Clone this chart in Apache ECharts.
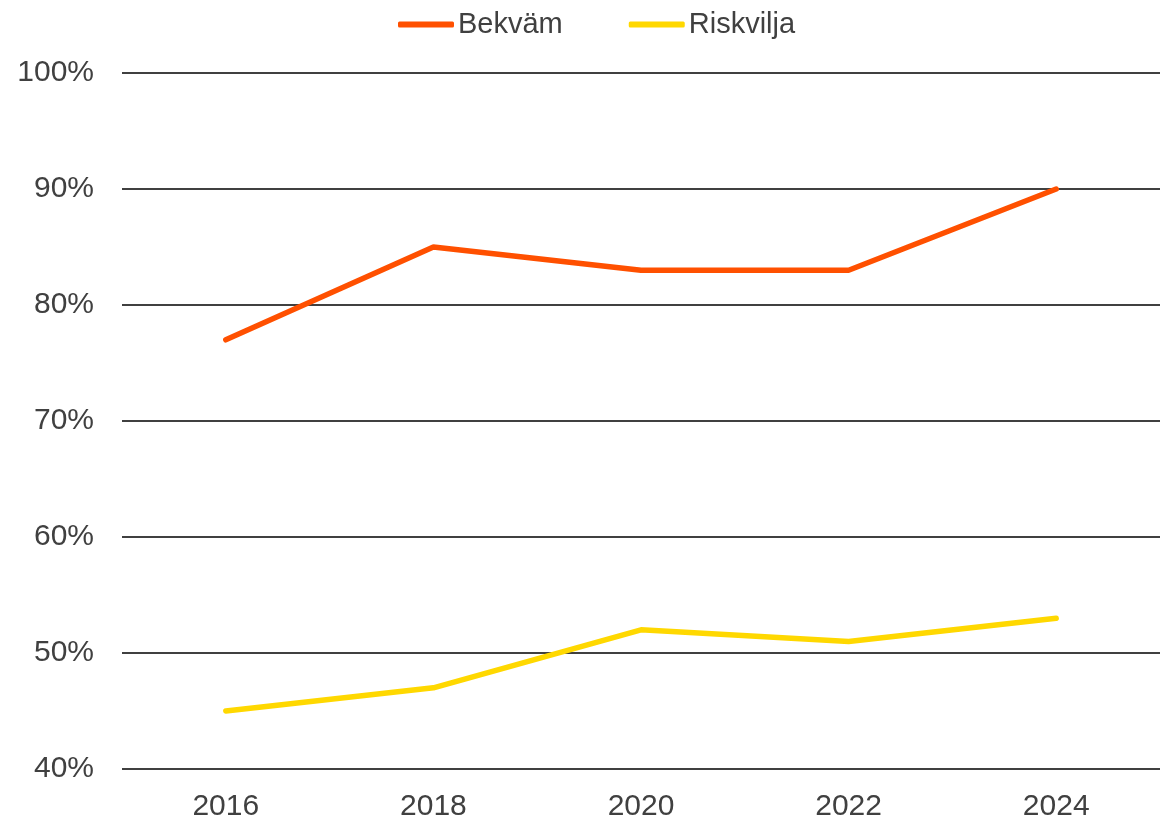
<!DOCTYPE html>
<html>
<head>
<meta charset="utf-8">
<script src="https://cdn.jsdelivr.net/npm/echarts@6/dist/echarts.min.js"></script>
<style>
  html, body { margin: 0; padding: 0; background: #fff; }
  #chart { width: 1160px; height: 823px; }
</style>
</head>
<body>
<div id="chart"></div>
<script>
// data
var years = ['2016', '2018', '2020', '2022', '2024'];
var bekvam = [77, 85, 83, 83, 90];
var riskvilja = [45, 47, 52, 51, 53];
var seriesNames = ['Bekväm', 'Riskvilja'];

var myChart = echarts.init(document.getElementById('chart'));
var textColor = '#404040';
var fontFam = 'Liberation Sans, Arial, sans-serif';

myChart.setOption({
    animation: false,
    color: ['#FF5000', '#FFD800'],
    legend: {
        data: seriesNames,
        top: 5,
        left: 393,
        itemWidth: 56,
        itemHeight: 6,
        itemGap: 66,
        icon: 'roundRect',
        textStyle: { color: textColor, fontSize: 29, fontFamily: fontFam, padding: [0, 0, 0, -1] }
    },
    grid: {
        left: 122,
        width: 1040,
        top: 73,
        bottom: 54
    },
    xAxis: {
        type: 'category',
        data: years,
        boundaryGap: true,
        axisLine: { show: false },
        axisTick: { show: false },
        axisLabel: { color: textColor, fontSize: 30, fontFamily: fontFam, margin: 23 }
    },
    yAxis: {
        type: 'value',
        min: 40,
        max: 100,
        interval: 10,
        axisLine: { show: false },
        axisTick: { show: false },
        axisLabel: {
            color: textColor, fontSize: 30, fontFamily: fontFam, margin: 28,
            formatter: function (val) { return val + '%'; }
        },
        splitLine: { lineStyle: { color: '#404040', width: 2 } }
    },
    series: [
        {
            name: seriesNames[0],
            type: 'line',
            data: bekvam,
            symbol: 'none',
            lineStyle: { width: 5.5, cap: 'round' }
        },
        {
            name: seriesNames[1],
            type: 'line',
            data: riskvilja,
            symbol: 'none',
            lineStyle: { width: 5.5, cap: 'round' }
        }
    ]
});
</script>
</body>
</html>
